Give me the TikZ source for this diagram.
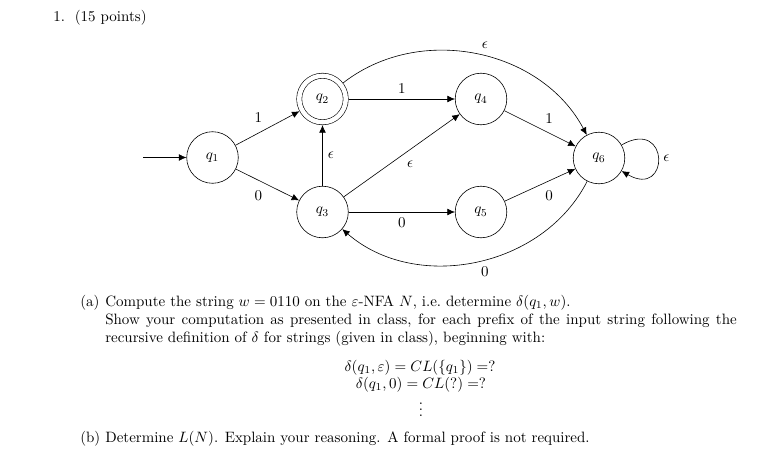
\documentclass[tikz,border=0pt]{standalone}
\usepackage{amsmath}
\usetikzlibrary{arrows.meta,positioning}

\begin{document}
\begin{tikzpicture}[x=0.6667pt, y=-0.6667pt,
  state/.style={draw, circle, minimum size=34.4pt, inner sep=0pt},
  accept/.style={state, minimum size=31pt, double, double distance=3pt, outer sep=1.9pt},
  trans/.style={-{Latex[length=5pt,width=4.5pt]}, auto},
  txt/.style={inner sep=0pt, anchor=base west},
]
\useasboundingbox (0,0) rectangle (774,461);

% the automaton
\node[state]  (q1) at (212.5,157.5) {$q_1$};
\node[accept] (q2) at (322.5,99)    {$q_2$};
\node[state]  (q3) at (322.5,212)   {$q_3$};
\node[state]  (q4) at (481,99)      {$q_4$};
\node[state]  (q5) at (481,212)     {$q_5$};
\node[state]  (q6) at (599,158)     {$q_6$};
\coordinate (start) at (143,157.5);

\draw[trans] (start) -- (q1);
\draw[trans] (q1) -- node {1} (q2);
\draw[trans] (q1) -- node[swap] {0} (q3);
\draw[trans] (q3) -- node[swap] {$\epsilon$} (q2);
\draw[trans] (q2) -- node {1} (q4);
\draw[trans] (q3) -- node[swap] {$\epsilon$} (q4);
\draw[trans] (q3) -- node[swap] {0} (q5);
\draw[trans] (q4) -- node {1} (q6);
\draw[trans] (q5) -- node[swap] {0} (q6);
\draw[trans] (q2) to[bend left=50] node {$\epsilon$} (q6);
\draw[trans] (q6) to[bend left=52] node {0} (q3);
\draw[trans] (q6) to[loop, out=30, in=-30, looseness=5.5] node[right] {$\epsilon$} (q6);

% the question
\node[txt] (head) at (53,21.5) {1.\hspace{6.6pt}(15 points)};
\node[txt] (la) at (80,306.5) {(a)};
\node[inner sep=0pt, anchor=north west, text width=421pt, align=justify] (pa) at (105,295)
  {Compute the string $w = 0110$ on the $\varepsilon$-NFA $N$, i.e.\ determine $\delta(q_1, w)$.\\
   Show your computation as presented in class, for each prefix of the input string following the
   recursive definition of $\delta$ for strings (given in class), beginning with:};
\node[inner sep=0pt, anchor=base] (eq1) at (420,371) {$\delta(q_1,\varepsilon) = CL(\{q_1\}) =?$};
\node[inner sep=0pt, anchor=base] (eq2) at (421,388) {$\delta(q_1,0) = CL(?) =?$};
\node[inner sep=0pt] (dots) at (421,409.5)
  {\vbox{\baselineskip=4pt\lineskiplimit=0pt\hbox{.}\hbox{.}\hbox{.}}};
\node[txt] (lb) at (80,442.5) {(b)};
\node[txt] (pb) at (105,442.5) {Determine $L(N)$. Explain your reasoning. A formal proof is not required.};

\end{tikzpicture}
\end{document}
